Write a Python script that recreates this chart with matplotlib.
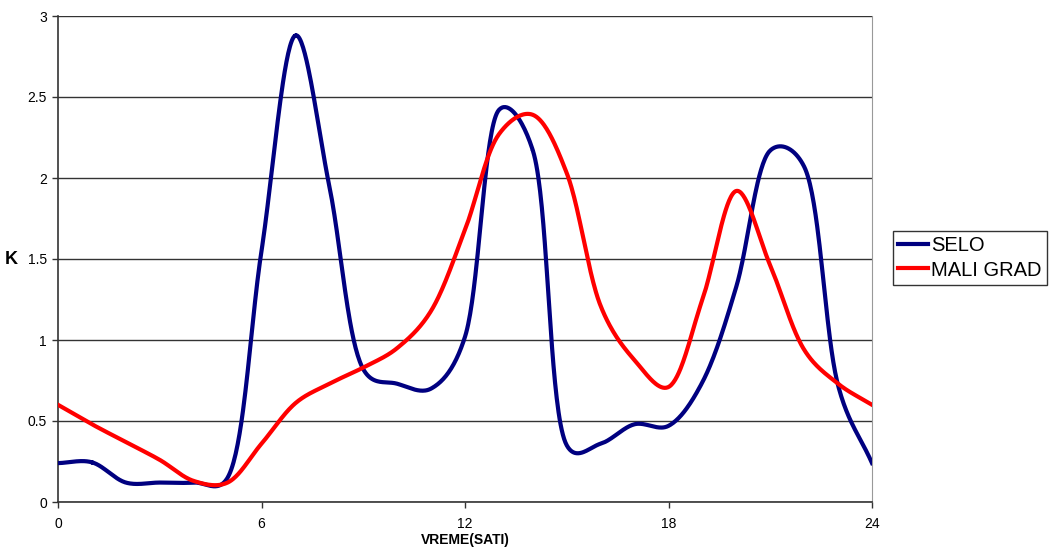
import numpy as np
import matplotlib.pyplot as plt

plt.rcParams['font.family'] = ['Liberation Sans', 'DejaVu Sans']

# hourly values
sati = list(range(25))
selo = [0.24, 0.245, 0.12, 0.12, 0.12, 0.15, 1.55, 2.88, 1.95, 0.82,
        0.73, 0.70, 1.02, 2.42, 2.17, 0.35, 0.36, 0.48, 0.47, 0.74,
        1.33, 2.17, 2.07, 0.72, 0.24]
mali_grad = [0.60, 0.48, 0.37, 0.26, 0.13, 0.12, 0.36, 0.61, 0.73, 0.83,
             0.95, 1.18, 1.68, 2.27, 2.39, 2.03, 1.21, 0.875, 0.71, 1.25,
             1.92, 1.46, 0.94, 0.73, 0.60]

W, H = 1051, 556
ax_l, ax_r, ax_t, ax_b = 58, 872, 16, 502


def smooth(xs, ys, n=40, alpha=0.3):
    # excel-like smoothed line: catmull-rom in pixel space
    sx = (ax_r - ax_l) / 24.0
    sy = (ax_b - ax_t) / 3.0
    P = np.column_stack([np.asarray(xs, float) * sx, np.asarray(ys, float) * sy])
    P = np.vstack([2 * P[0] - P[1], P, 2 * P[-1] - P[-2]])
    out = []
    for i in range(1, len(P) - 2):
        p0, p1, p2, p3 = P[i - 1:i + 3]
        t0 = 0.0
        t1 = t0 + np.linalg.norm(p1 - p0) ** alpha
        t2 = t1 + np.linalg.norm(p2 - p1) ** alpha
        t3 = t2 + np.linalg.norm(p3 - p2) ** alpha
        t = np.linspace(t1, t2, n)[:, None]
        A1 = (t1 - t) / (t1 - t0) * p0 + (t - t0) / (t1 - t0) * p1
        A2 = (t2 - t) / (t2 - t1) * p1 + (t - t1) / (t2 - t1) * p2
        A3 = (t3 - t) / (t3 - t2) * p2 + (t - t2) / (t3 - t2) * p3
        B1 = (t2 - t) / (t2 - t0) * A1 + (t - t0) / (t2 - t0) * A2
        B2 = (t3 - t) / (t3 - t1) * A2 + (t - t1) / (t3 - t1) * A3
        out.append((t2 - t) / (t2 - t1) * B1 + (t - t1) / (t2 - t1) * B2)
    C = np.vstack(out)
    return C[:, 0] / sx, C[:, 1] / sy


fig = plt.figure(figsize=(W / 100, H / 100), dpi=100)
ax = fig.add_axes([ax_l / W, 1 - ax_b / H, (ax_r - ax_l) / W, (ax_b - ax_t) / H])

x, y = smooth(sati, selo)
ax.plot(x, y, color='#000080', lw=3, label='SELO', zorder=3)
x, y = smooth(sati, mali_grad)
ax.plot(x, y, color='#FF0000', lw=3, label='MALI GRAD', zorder=3)

ax.set_xlim(0, 24)
ax.set_ylim(0, 3)
ax.set_xticks([0, 6, 12, 18, 24])
ax.set_yticks([0, 0.5, 1, 1.5, 2, 2.5, 3])
ax.set_yticklabels(['0', '0.5', '1', '1.5', '2', '2.5', '3'])
ax.yaxis.grid(True, color='#333333', lw=1)
ax.set_axisbelow(True)
ax.tick_params(axis='both', labelsize=10, length=4, width=1, color='#333333')
ax.tick_params(axis='x', pad=7)
ax.tick_params(axis='y', pad=4)

for s in ['left', 'bottom']:
    ax.spines[s].set_color('#333333')
    ax.spines[s].set_linewidth(1.2)
ax.spines['top'].set_visible(False)
ax.spines['right'].set_color('#999999')

ax.set_xlabel('VREME(SATI)', fontsize=10, fontweight='bold')
ax.xaxis.set_label_coords(0.5, -(533 - ax_b) / (ax_b - ax_t))
ax.set_ylabel('K', fontsize=13, fontweight='bold', rotation=0, va='center', ha='center')
ax.yaxis.set_label_coords(-(ax_l - 11) / (ax_r - ax_l), 0.5)

leg = ax.legend(loc='center left', bbox_to_anchor=(893 / W, 1 - 258 / H),
                bbox_transform=fig.transFigure, fontsize=14.5, frameon=True,
                fancybox=False, edgecolor='black', borderpad=0.25,
                handlelength=1.5, handletextpad=0.15, labelspacing=0.25,
                borderaxespad=0)
leg.get_frame().set_linewidth(1)

fig.savefig('out.png', dpi=100)
